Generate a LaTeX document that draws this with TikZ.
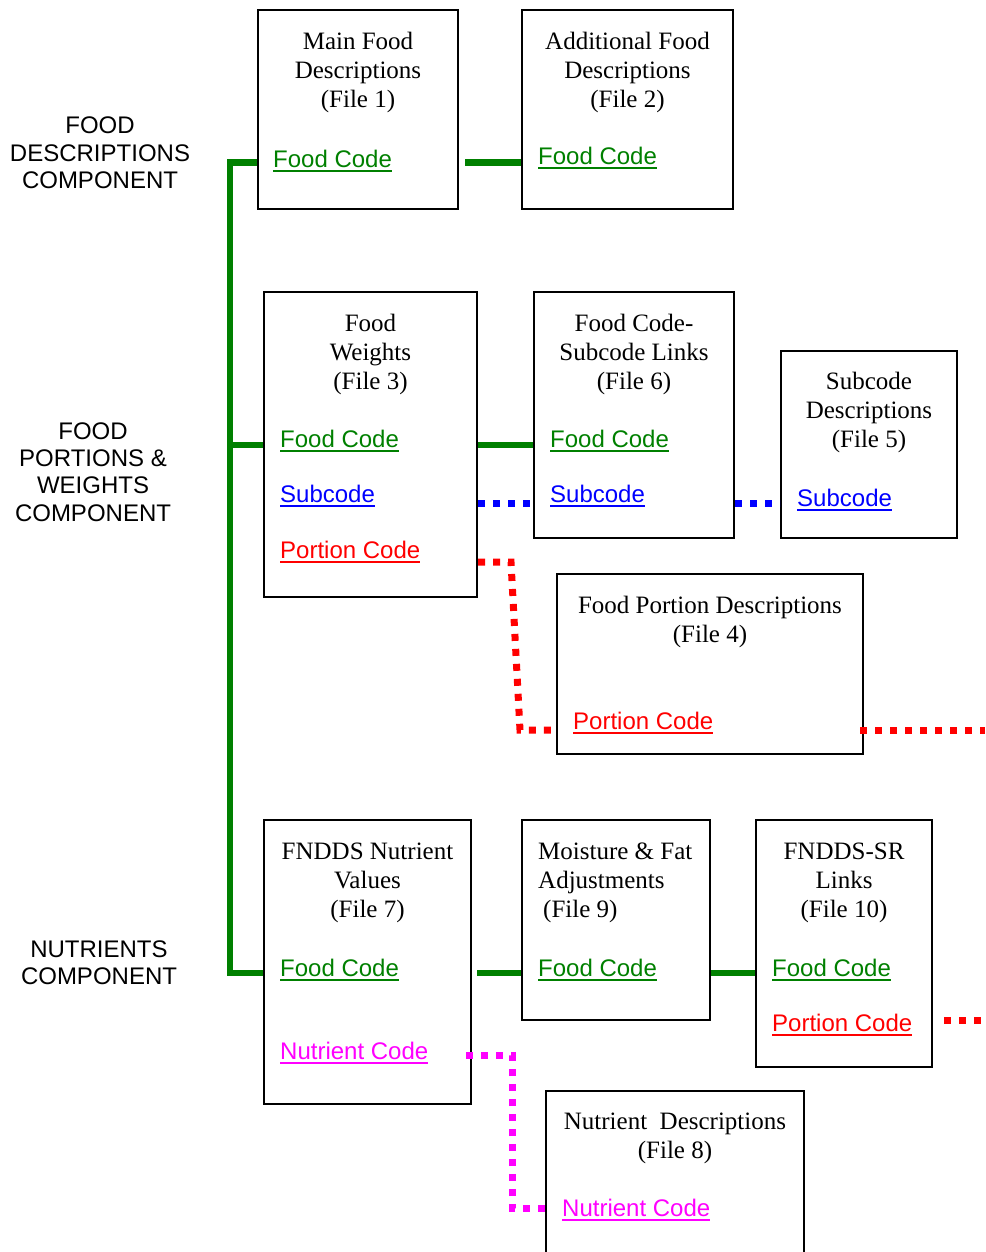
\documentclass[tikz,border=0pt]{standalone}
\usepackage{fontspec}
\setmainfont{Liberation Serif}
\newfontfamily\arialf{Liberation Sans}
\definecolor{fgreen}{RGB}{0,128,0}
\definecolor{fblue}{RGB}{0,0,255}
\definecolor{fred}{RGB}{255,0,0}
\definecolor{fmag}{RGB}{255,0,255}
\newcommand\codeul[1]{\setbox0=\hbox{#1}\rlap{\rule[-4.5pt]{\wd0}{1.9pt}}\box0}
\tikzset{
  tbox/.style={draw=black, line width=2pt, rectangle, inner sep=0pt},
  ttl/.style={font=\fontsize{25}{29}\selectfont, align=center, anchor=base, inner sep=0pt, yshift=-1.5pt},
  lab/.style={font=\arialf\fontsize{24}{27.3}\selectfont, align=center, anchor=base, inner sep=0pt, yshift=-1pt},
  code/.style={font=\arialf\fontsize{24}{27}\selectfont, anchor=base west, inner sep=0pt, yshift=-1.5pt},
  gline/.style={draw=fgreen, line width=6.5pt, line join=miter},
  dotl/.style={line width=7pt, dash pattern=on 7pt off 8pt, line cap=butt, line join=miter},
  bline/.style={dotl, draw=fblue},
  rline/.style={dotl, draw=fred},
  mline/.style={dotl, draw=fmag},
}
\begin{document}
\begin{tikzpicture}[x=1pt, y=-1pt]
\useasboundingbox (0,0) rectangle (985,1252);
% boxes
\node[tbox, minimum width=200pt, minimum height=199pt] (box1) at (358,109.5) {};
\node[tbox, minimum width=211pt, minimum height=199pt] (box2) at (627.5,109.5) {};
\node[tbox, minimum width=213pt, minimum height=305pt] (box3) at (370.5,444.5) {};
\node[tbox, minimum width=200pt, minimum height=246pt] (box6) at (634,415) {};
\node[tbox, minimum width=176pt, minimum height=187pt] (box5) at (869,444.5) {};
\node[tbox, minimum width=306pt, minimum height=180pt] (box4) at (710,664) {};
\node[tbox, minimum width=207pt, minimum height=284pt] (box7) at (367.5,962) {};
\node[tbox, minimum width=188pt, minimum height=200pt] (box9) at (616,920) {};
\node[tbox, minimum width=176pt, minimum height=247pt] (box10) at (844,943.5) {};
\node[tbox, minimum width=258pt, minimum height=184pt] (box8) at (675,1183) {};
% titles (anchor = baseline of last line)
\node[ttl] (t1) at (358,106) {Main Food\\Descriptions\\(File 1)};
\node[ttl] (t2) at (627.5,106) {Additional Food\\Descriptions\\(File 2)};
\node[ttl] (t3) at (370.5,388) {Food\\Weights\\(File 3)};
\node[ttl] (t6) at (634,388) {Food Code-\\Subcode Links\\(File 6)};
\node[ttl] (t5) at (869,446) {Subcode\\Descriptions\\(File 5)};
\node[ttl] (t4) at (710,641) {Food Portion Descriptions\\(File 4)};
\node[ttl] (t7) at (367.5,916) {FNDDS Nutrient\\Values\\(File 7)};
\node[ttl, align=left, anchor=base west] (t9) at (538,916) {Moisture \& Fat\\Adjustments\\\hspace*{5pt}(File 9)};
\node[ttl] (t10) at (844,916) {FNDDS-SR\\Links\\(File 10)};
\node[ttl] (t8) at (675,1157) {Nutrient~ Descriptions\\(File 8)};
% component labels
\node[lab] (L1) at (100,187.6) {FOOD\\DESCRIPTIONS\\COMPONENT};
\node[lab] (L2) at (93,520) {FOOD\\PORTIONS \&\\WEIGHTS\\COMPONENT};
\node[lab] (L3) at (99,983.3) {NUTRIENTS\\COMPONENT};
% codes
\node[code, text=fgreen] (fc1) at (273,166) {\codeul{Food Code}};
\node[code, text=fgreen] (fc2) at (538,163) {\codeul{Food Code}};
\node[code, text=fgreen] (fc3) at (280,446) {\codeul{Food Code}};
\node[code, text=fblue] (sc3) at (280,501) {\codeul{Subcode}};
\node[code, text=fred] (pc3) at (280,557) {\codeul{Portion Code}};
\node[code, text=fgreen] (fc6) at (550,446) {\codeul{Food Code}};
\node[code, text=fblue] (sc6) at (550,501) {\codeul{Subcode}};
\node[code, text=fblue] (sc5) at (797,505) {\codeul{Subcode}};
\node[code, text=fred] (pc4) at (573,728) {\codeul{Portion Code}};
\node[code, text=fgreen] (fc7) at (280,975) {\codeul{Food Code}};
\node[code, text=fmag] (nc7) at (280,1058) {\codeul{Nutrient Code}};
\node[code, text=fgreen] (fc9) at (538,975) {\codeul{Food Code}};
\node[code, text=fgreen] (fc10) at (772,975) {\codeul{Food Code}};
\node[code, text=fred] (pc10) at (772,1030) {\codeul{Portion Code}};
\node[code, text=fmag] (nc8) at (562,1215) {\codeul{Nutrient Code}};
% coordinates
\coordinate (jtop) at (230,162.5);
\coordinate (jmid) at (230,445);
\coordinate (jbot) at (230,973);
\coordinate (ysub) at (0,503);
\coordinate (rb1) at (511,562);
\coordinate (rb2) at (520,730);
\coordinate (rend1) at (985,730);
\coordinate (rend2) at (985,1020);
\coordinate (mb1) at (512,1055);
\coordinate (mb2) at (512,1208);
% green links
\draw[gline] (box1.west |- jtop) -- (jtop) -- (jbot) -- (box7.west |- jbot);
\draw[gline] (jmid) -- (box3.west |- jmid);
\draw[gline, shorten <=6pt] (box1.east |- jtop) -- (box2.west |- jtop);
\draw[gline] (box3.east |- jmid) -- (box6.west |- jmid);
\draw[gline, shorten <=5pt] (box7.east |- jbot) -- (box9.west |- jbot);
\draw[gline] (box9.east |- jbot) -- (box10.west |- jbot);
% blue links
\draw[bline] (box3.east |- ysub) -- (box6.west |- ysub);
\draw[bline] (box6.east |- ysub) -- (box5.west |- ysub);
% red links
\draw[rline] (box3.east |- rb1) -- (rb1) -- (rb2) -- (box4.west |- rb2);
\draw[rline, shorten <=-4pt] (box4.east |- rend1) -- (rend1);
\draw[rline, shorten <=11pt] (box10.east |- rend2) -- (rend2);
% magenta link
\draw[mline, shorten <=-6pt] (box7.east |- mb1) -- (mb1) -- (mb2) -- (box8.west |- mb2);
\end{tikzpicture}
\end{document}
